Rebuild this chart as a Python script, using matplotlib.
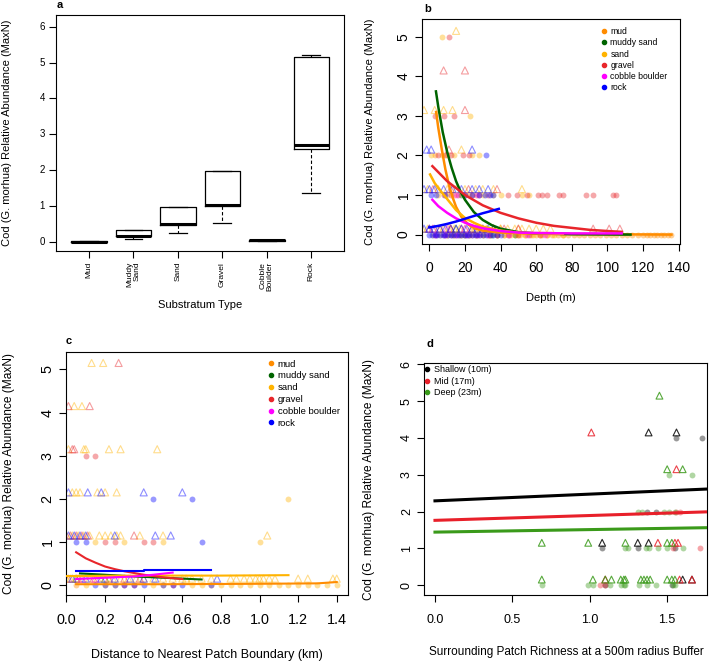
import numpy as np
import matplotlib.pyplot as plt
from matplotlib.lines import Line2D

plt.rcParams['font.family'] = ['Liberation Sans', 'DejaVu Sans']

# substrata and their colours
sub_names = ['mud', 'muddy sand', 'sand', 'gravel', 'cobble boulder', 'rock']
sub_cols = ['#FF8C00', '#006400', '#FFB300', '#E8262B', '#FF00FF', '#0000FF']

# ---- panel a: boxplot stats
box_labels = ['Mud', 'Muddy\nSand', 'Sand', 'Gravel', 'Cobble\nBoulder', 'Rock']
box_q1 = [-0.01, 0.15, 0.48, 1.00, 0.03, 2.60]
box_med = [0.00, 0.17, 0.50, 1.02, 0.05, 2.70]
box_q3 = [0.01, 0.33, 0.96, 1.97, 0.06, 5.15]
box_lo = [-0.01, 0.07, 0.24, 0.52, 0.03, 1.35]
box_hi = [0.01, 0.33, 0.96, 1.97, 0.06, 5.20]

# ---- panel b: depth (m) per MaxN level, circles = observed, triangles offset
b_circ = {
    'mud': {0: [10, 14, 18, 22, 26, 30, 34, 38, 42, 45, 48, 51, 54, 57, 60, 63, 66, 69, 72, 75, 78, 81,
                84, 87, 90, 93, 96, 99, 102, 105, 108, 111, 114, 117, 120, 122, 124, 126, 128, 130, 132, 134, 136],
            2: [3]},
    'muddy sand': {0: [20, 35, 48], 1: [18]},
    'sand': {0: [2, 6, 10, 14, 18, 22, 26, 30, 34, 38, 42, 46, 50, 54, 58, 62, 66, 70, 75],
             1: [5, 10, 14, 22, 26, 30, 36, 40, 52, 56], 2: [1, 7, 10, 14, 24, 28], 3: [23], 5: [7]},
    'gravel': {0: [4, 8, 12, 16, 20, 24, 28, 33, 38, 44, 50, 56, 62],
               1: [8, 12, 16, 20, 24, 28, 33, 44, 49, 55, 61, 63, 66, 73, 75, 88, 92, 103, 105],
               2: [5, 9, 12, 19, 22], 3: [3, 8, 14], 5: [11]},
    'cobble boulder': {0: [3, 9, 15, 21, 27, 33, 45, 55, 65], 1: [15, 27]},
    'rock': {0: [0, 1.5, 3, 4.5, 6, 7.5, 9, 10.5, 12, 13.5, 15, 16.5, 18, 19.5, 21, 22.5, 24, 25.5, 27,
                 28.5, 30, 32, 34, 36, 38, 40],
             1: [1, 4, 9, 20, 24, 28, 31, 34, 36], 2: [32]},
}
b_tri = {
    'mud': {0.15: [12, 25, 40, 50]},
    'muddy sand': {0.15: [15]},
    'sand': {0.15: [-4, -1, 2, 5, 8, 11, 14, 17, 20, 23, 26, 29, 32, 36, 40, 44, 48, 52, 56, 60, 64, 68],
             1.15: [-1, 5, 10, 15, 20, 26, 30, 36, 52], 2.15: [18], 3.15: [-3, 3, 8, 13], 5.15: [15]},
    'gravel': {0.15: [0, 6, 12, 18, 24, 30, 36, 42, 50, 92, 101, 107], 1.15: [2, 12, 22, 38],
               2.15: [11], 3.15: [20], 4.15: [8, 20]},
    'cobble boulder': {0.15: [2, 10, 20]},
    'rock': {0.15: [-3, 0, 3, 6, 9, 12, 15, 18, 21, 24, 27, 30, 33, 36],
             1.15: [-3, 0, 3, 8, 13, 18, 24, 28, 33], 2.15: [-1.5, 1, 24]},
}
# fitted curves (depth, MaxN)
b_fit_x = {
    'mud': [3.8, 5, 7, 9, 11, 13, 15, 18, 22, 26, 30, 40, 60, 90, 136],
    'muddy sand': [3.7, 5, 7.5, 10, 12.5, 15, 17.5, 20, 25, 30, 35, 40, 50, 60, 80, 113],
    'sand': [0.4, 3, 6, 10, 15, 20, 25, 30, 40, 50, 60, 75],
    'gravel': [1.7, 10, 20, 30, 40, 50, 60, 70, 80, 90, 100, 108],
    'cobble boulder': [1.7, 5, 10, 15, 20, 25, 30, 40, 50, 60, 80, 108],
    'rock': [0, 5, 10, 15, 20, 25, 30, 35, 39],
}
b_fit_y = {
    'mud': [3.1, 2.7, 2.15, 1.65, 1.25, 0.95, 0.7, 0.45, 0.25, 0.15, 0.1, 0.05, 0.02, 0.01, 0.0],
    'muddy sand': [3.62, 3.23, 2.59, 2.09, 1.69, 1.35, 1.09, 0.88, 0.57, 0.37, 0.24, 0.15, 0.06, 0.03, 0.01, 0.0],
    'sand': [1.52, 1.3, 1.12, 0.9, 0.62, 0.42, 0.3, 0.2, 0.1, 0.05, 0.03, 0.02],
    'gravel': [1.73, 1.35, 1.0, 0.74, 0.55, 0.41, 0.3, 0.22, 0.17, 0.12, 0.09, 0.07],
    'cobble boulder': [0.88, 0.72, 0.55, 0.41, 0.3, 0.22, 0.16, 0.09, 0.05, 0.04, 0.03, 0.03],
    'rock': [0.18, 0.22, 0.27, 0.33, 0.40, 0.47, 0.54, 0.60, 0.65],
}

# ---- panel c: distance to boundary (km) per MaxN level
c_circ = {
    'mud': {0: [0.05]},
    'sand': {0: [0.1, 0.2, 0.25, 0.45, 0.5, 0.65, 0.7, 0.75, 0.8, 0.85, 0.9, 0.95, 1.0, 1.05, 1.1,
                 1.15, 1.2, 1.25, 1.3, 1.35, 1.4],
             1: [0.15, 0.3, 0.5, 1.0], 2: [1.15]},
    'gravel': {0: [0.3, 0.35, 0.55], 1: [0.2, 0.25, 0.4, 0.45], 3: [0.1, 0.15]},
    'rock': {0: [0.15, 0.2, 0.25, 0.3, 0.35, 0.4, 0.5, 0.55, 0.6, 0.75], 1: [0.05, 0.1, 0.7], 2: [0.45, 0.65]},
}
c_tri = {
    'muddy sand': {0.15: [0.05, 0.2]},
    'sand': {0.15: [0.0, 0.02, 0.05, 0.08, 0.12, 0.16, 0.2, 0.24, 0.28, 0.32, 0.36, 0.4, 0.45, 0.5, 0.55,
                    0.6, 0.62, 0.65, 0.7, 0.75, 0.85, 0.88, 0.92, 0.95, 0.98, 1.0, 1.02, 1.05, 1.08, 1.2,
                    1.25, 1.38, 1.4],
             1.15: [0.0, 0.03, 0.06, 0.09, 0.12, 0.17, 0.2, 0.23, 0.26, 0.28, 0.38, 0.5, 1.04],
             2.15: [0.03, 0.05, 0.07, 0.16, 0.2, 0.26], 3.15: [0.01, 0.09, 0.1, 0.22, 0.28, 0.47],
             4.15: [0.04, 0.08], 5.15: [0.13, 0.19]},
    'gravel': {0.15: [0.01, 0.06, 0.14, 0.22, 0.3, 0.38], 1.15: [0.02, 0.05, 0.08, 0.11, 0.35],
               3.15: [0.03, 0.04], 4.15: [0.01, 0.12], 5.15: [0.27]},
    'cobble boulder': {0.15: [0.08, 0.15]},
    'rock': {0.15: [0.03, 0.1, 0.18, 0.25, 0.33, 0.4, 0.46, 0.78],
             1.15: [0.01, 0.04, 0.07, 0.1, 0.25, 0.46, 0.54], 2.15: [0.01, 0.11, 0.18, 0.4, 0.6]},
}
c_fit_x = {
    'mud': [0.05, 0.5, 1.0, 1.3, 1.4],
    'muddy sand': [0.07, 0.2, 0.35, 0.5, 0.7],
    'sand': [0.0, 0.4, 0.8, 1.15],
    'gravel': [0.05, 0.1, 0.15, 0.2, 0.25, 0.3, 0.4, 0.5, 0.6],
    'cobble boulder': [0.05, 0.2, 0.35, 0.45, 0.55],
    'rock': [0.05, 0.4, 0.4, 0.75],
}
c_fit_y = {
    'mud': [0.02, 0.02, 0.03, 0.04, 0.07],
    'muddy sand': [0.27, 0.24, 0.2, 0.17, 0.13],
    'sand': [0.21, 0.22, 0.22, 0.23],
    'gravel': [0.76, 0.62, 0.52, 0.43, 0.37, 0.32, 0.24, 0.18, 0.14],
    'cobble boulder': [0.14, 0.17, 0.2, 0.24, 0.29],
    'rock': [0.33, 0.33, 0.35, 0.35],
}

# ---- panel d: patch richness per MaxN level by depth class
depth_names = ['Shallow (10m)', 'Mid (17m)', 'Deep (23m)']
depth_cols = ['#000000', '#E8202A', '#3A9A1A']
d_circ = [
    {0: [1.1, 1.53], 1: [1.08, 1.31, 1.55], 2: [1.37, 1.43], 4: [1.555, 1.725]},
    {0: [1.066, 1.1], 1: [1.54, 1.71], 2: [1.56, 1.58]},
    {0: [0.69, 0.99, 1.02, 1.13, 1.2, 1.22, 1.23, 1.32, 1.37, 1.43, 1.54, 1.55],
     1: [1.23, 1.25, 1.36, 1.38, 1.44, 1.5, 1.6], 2: [1.31, 1.34, 1.48, 1.51, 1.55], 3: [1.51, 1.66]},
]
d_tri = [
    {0.15: [1.6, 1.66], 1.15: [1.08, 1.31, 1.38], 4.15: [1.38, 1.56]},
    {0.15: [1.1, 1.58, 1.66], 1.15: [1.44, 1.55, 1.57], 3.15: [1.56], 4.15: [1.01]},
    {0.15: [0.69, 1.02, 1.1, 1.14, 1.2, 1.22, 1.23, 1.33, 1.35, 1.37, 1.39, 1.5, 1.53, 1.55],
     1.15: [0.69, 0.99, 1.23, 1.5, 1.53], 3.15: [1.5, 1.6], 5.15: [1.45]},
]
d_fit_x = [0, 1.75]
d_fit_y = [[2.29, 2.61], [1.76, 1.99], [1.44, 1.56]]

ylab = 'Cod (G. morhua) Relative Abundance (MaxN)'


def style(ax, fs, rot, xpad):
    for sp in ax.spines.values():
        sp.set_linewidth(0.8)
    ax.tick_params(length=5, width=0.8, labelsize=fs, pad=3)
    ax.tick_params(axis='x', pad=xpad)
    for t in ax.get_yticklabels():
        t.set_rotation(rot)
        t.set_va('center')


def pts(ax, levels, col, marker, s, alpha):
    for lev, xs in levels.items():
        ys = [lev] * len(xs)
        if marker == 'o':
            ax.scatter(xs, ys, s=s, color=col, alpha=alpha, lw=0, zorder=2)
        else:
            ax.scatter(xs, ys, s=s, marker='^', facecolors='none', edgecolors=col,
                       alpha=alpha, linewidths=0.8, zorder=2)


def ylabel(ax, x, fs):
    ax.set_ylabel(ylab, fontsize=fs)
    ax.yaxis.set_label_coords(x, 0.5)
    ax.yaxis.label.set_va('center')


def xlabel(ax, text, y, fs, x=0.5):
    ax.set_xlabel(text, fontsize=fs)
    ax.xaxis.set_label_coords(x, y)
    ax.xaxis.label.set_va('center')


fig = plt.figure(figsize=(7.09, 6.62), dpi=100)

# ------------- a
ax = fig.add_axes([0.0790, 0.6213, 0.4066, 0.3560])
stats = []
for i in range(6):
    stats.append(dict(med=box_med[i], q1=box_q1[i], q3=box_q3[i],
                      whislo=box_lo[i], whishi=box_hi[i], fliers=[]))
ax.bxp(stats, positions=range(1, 7), widths=0.8, showfliers=False, capwidths=0.4,
       boxprops=dict(color='black', linewidth=0.9),
       medianprops=dict(color='black', linewidth=2.2),
       whiskerprops=dict(color='black', linewidth=0.8, linestyle=(0, (3, 2))),
       capprops=dict(color='black', linewidth=0.9))
ax.set_xlim(0.26, 6.74)
ax.set_ylim(-0.25, 6.33)
ax.set_yticks(range(7))
ax.set_xticks(range(1, 7))
ax.set_xticklabels(box_labels, rotation=90, fontsize=6, linespacing=0.95, multialignment='right')
style(ax, 7, 0, 3)
ax.tick_params(axis='x', labelsize=6)
xlabel(ax, 'Substratum Type', -0.23, 8)
ylabel(ax, -0.17, 8)
ax.text(0.003, 1.02, 'a', transform=ax.transAxes, fontsize=8, fontweight='bold', va='bottom')

# ------------- b
ax = fig.add_axes([0.5948, 0.6307, 0.3643, 0.3406])
for name, col in zip(sub_names, sub_cols):
    if name in b_circ:
        pts(ax, b_circ[name], col, 'o', 18, 0.4)
    if name in b_tri:
        pts(ax, b_tri[name], col, '^', 26, 0.45)
for name, col in zip(sub_names, sub_cols):
    ax.plot(b_fit_x[name], b_fit_y[name], color=col, lw=1.8, zorder=3)
ax.set_xlim(-4.3, 140.8)
ax.set_ylim(-0.25, 5.45)
ax.set_xticks(range(0, 141, 20))
ax.set_yticks(range(6))
style(ax, 10, 90, 7)
xlabel(ax, 'Depth (m)', -0.237, 8)
ylabel(ax, -0.2, 8)
hd = [Line2D([], [], marker='o', ls='', color=c, markersize=3) for c in sub_cols]
ax.legend(hd, sub_names, loc='upper right', bbox_to_anchor=(0.975, 0.99), frameon=False,
          fontsize=6.2, handlelength=0.6, handletextpad=0.4, labelspacing=0.25, borderpad=0.2)
ax.text(0.01, 1.02, 'b', transform=ax.transAxes, fontsize=8, fontweight='bold', va='bottom')

# ------------- c
ax = fig.add_axes([0.0927, 0.1012, 0.3975, 0.3675])
for name, col in zip(sub_names, sub_cols):
    if name in c_circ:
        pts(ax, c_circ[name], col, 'o', 18, 0.4)
    if name in c_tri:
        pts(ax, c_tri[name], col, '^', 26, 0.45)
for name, col in zip(sub_names, sub_cols):
    ax.plot(c_fit_x[name], c_fit_y[name], color=col, lw=1.5, zorder=3)
ax.set_xlim(-0.004, 1.456)
ax.set_ylim(-0.23, 5.41)
ax.set_xticks(np.arange(0, 1.41, 0.2))
ax.set_xticklabels(['0.0', '0.2', '0.4', '0.6', '0.8', '1.0', '1.2', '1.4'])
ax.set_yticks(range(6))
style(ax, 10.4, 90, 8)
xlabel(ax, 'Distance to Nearest Patch Boundary (km)', -0.247, 9)
ylabel(ax, -0.2, 8.6)
ax.legend(hd, sub_names, loc='upper right', bbox_to_anchor=(0.995, 0.995), frameon=False,
          fontsize=6.8, handlelength=0.6, handletextpad=0.4, labelspacing=0.3, borderpad=0.2)
ax.text(0.0, 1.025, 'c', transform=ax.transAxes, fontsize=8, fontweight='bold', va='bottom')

# ------------- d
ax = fig.add_axes([0.5980, 0.1012, 0.3987, 0.3500])
for i in range(3):
    pts(ax, d_circ[i], depth_cols[i], 'o', 18, 0.4)
    pts(ax, d_tri[i], depth_cols[i], '^', 24, 0.85)
for i in range(3):
    ax.plot(d_fit_x, d_fit_y[i], color=depth_cols[i], lw=2.2, zorder=3)
ax.set_xlim(-0.071, 1.755)
ax.set_ylim(-0.27, 6.03)
ax.set_xticks([0, 0.5, 1.0, 1.5])
ax.set_xticklabels(['0.0', '0.5', '1.0', '1.5'])
ax.set_yticks(range(7))
style(ax, 9, 90, 8.5)
xlabel(ax, 'Surrounding Patch Richness at a 500m radius Buffer', -0.246, 8.5, x=0.505)
ylabel(ax, -0.195, 8.6)
hd2 = [Line2D([], [], marker='o', ls='', color=c, markersize=3) for c in depth_cols]
ax.legend(hd2, depth_names, loc='upper left', bbox_to_anchor=(-0.02, 1.02), frameon=False,
          fontsize=6.5, handlelength=0.6, handletextpad=0.4, labelspacing=0.3, borderpad=0.2)
ax.text(0.01, 1.06, 'd', transform=ax.transAxes, fontsize=8, fontweight='bold', va='bottom')

fig.savefig('out.png', dpi=100)
